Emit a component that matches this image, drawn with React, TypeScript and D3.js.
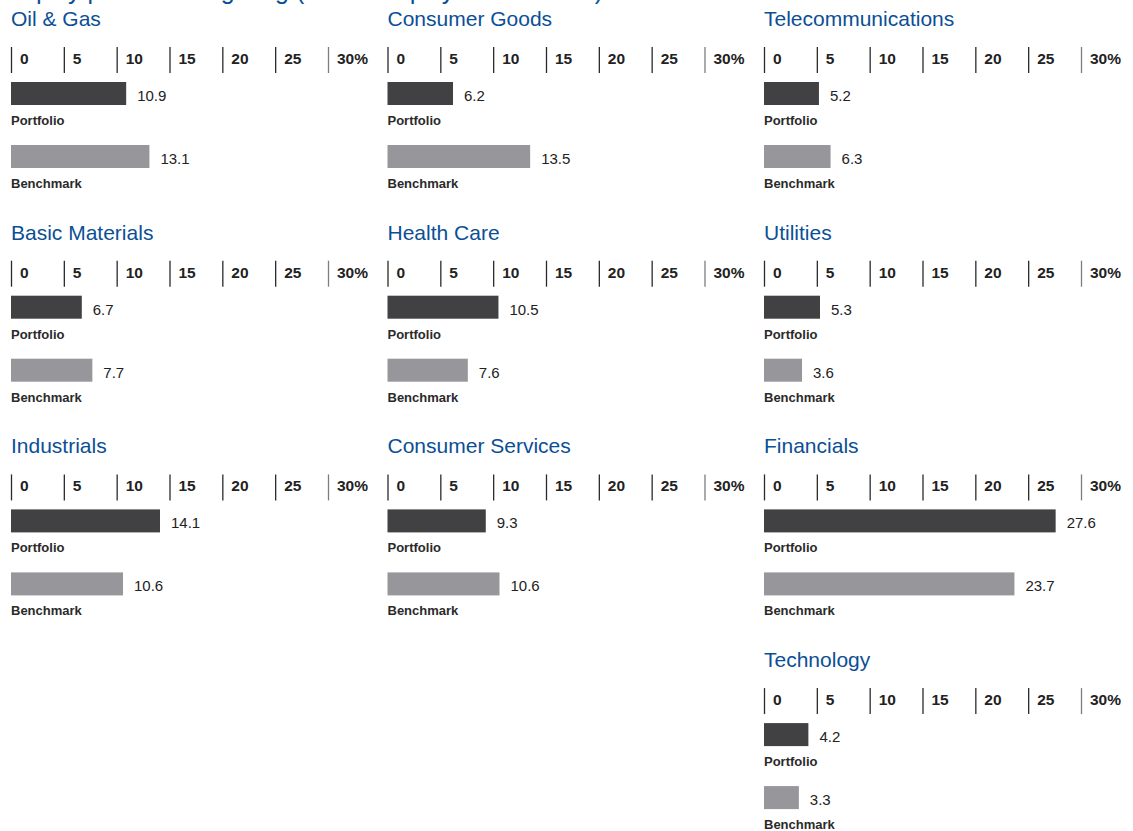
import { useEffect, useRef } from 'react';
import * as d3 from 'd3';

const chartTitle = 'Equity portfolio weighting (% total equity investments) versus benchmark index';

// column-major: first column, second column, third column
const sectors = [
  'Oil & Gas', 'Basic Materials', 'Industrials',
  'Consumer Goods', 'Health Care', 'Consumer Services',
  'Telecommunications', 'Utilities', 'Financials', 'Technology',
];
const portfolio = [10.9, 6.7, 14.1, 6.2, 10.5, 9.3, 5.2, 5.3, 27.6, 4.2];
const benchmark = [13.1, 7.7, 10.6, 13.5, 7.6, 10.6, 6.3, 3.6, 23.7, 3.3];
const columnSizes = [3, 3, 4];
const tickValues = [0, 5, 10, 15, 20, 25, 30];
const seriesLabels = ['Portfolio', 'Benchmark'];

const W = 1133;
const H = 831;
const FONT = '"Liberation Sans", Arial, Helvetica, sans-serif';
const BLUE = '#0b4f96';
const DARK = '#414143';
const GREY = '#97979b';

export default function App() {
  const svgRef = useRef<SVGSVGElement>(null);

  useEffect(() => {
    if (!svgRef.current) return;
    const svg = d3.select(svgRef.current);
    svg.selectAll('*').remove();

    const colX = [11, 387.5, 764];
    const rowH = 213.7;
    const x = d3.scaleLinear().domain([0, 30]).range([0, 317]);

    // main title, mostly cut off above the frame (as in the source)
    svg.append('text')
      .attr('x', 11)
      .attr('y', -1.5)
      .attr('font-family', FONT)
      .attr('font-size', 25)
      .attr('fill', BLUE)
      .text(chartTitle);

    // map index -> column / row
    const cells: { col: number; row: number }[] = [];
    columnSizes.forEach((n, c) => {
      for (let r = 0; r < n; r++) cells.push({ col: c, row: r });
    });

    sectors.forEach((name, i) => {
      const { col, row } = cells[i];
      const g = svg.append('g')
        .attr('transform', `translate(${colX[col]}, ${row * rowH})`);

      g.append('text')
        .attr('x', 0)
        .attr('y', 26)
        .attr('font-family', FONT)
        .attr('font-size', 21)
        .attr('fill', BLUE)
        .text(name);

      // axis: tick lines + labels
      const ticks = g.selectAll('g.tick')
        .data(tickValues)
        .enter()
        .append('g')
        .attr('transform', d => `translate(${x(d)}, 0)`);

      ticks.append('line')
        .attr('x1', 0.5).attr('x2', 0.5)
        .attr('y1', 47).attr('y2', 73)
        .attr('stroke', (d, j) => (j === tickValues.length - 1 ? '#7d7d7f' : '#2a2a2c'))
        .attr('stroke-width', 1.3);

      ticks.append('text')
        .attr('x', 9)
        .attr('y', 64)
        .attr('font-family', FONT)
        .attr('font-size', 15.5)
        .attr('font-weight', 'bold')
        .attr('fill', '#222')
        .text((d, j) => (j === tickValues.length - 1 ? `${d}%` : `${d}`));

      const values = [portfolio[i], benchmark[i]];
      const colors = [DARK, GREY];

      values.forEach((v, k) => {
        const y0 = 82 + k * 63;
        g.append('rect')
          .attr('x', 0)
          .attr('y', y0)
          .attr('width', x(v))
          .attr('height', 23)
          .attr('fill', colors[k]);

        g.append('text')
          .attr('x', x(v) + 11)
          .attr('y', y0 + 19)
          .attr('font-family', FONT)
          .attr('font-size', 15)
          .attr('fill', '#222')
          .text(v.toFixed(1));

        g.append('text')
          .attr('x', 0)
          .attr('y', y0 + 43)
          .attr('font-family', FONT)
          .attr('font-size', 13)
          .attr('font-weight', 'bold')
          .attr('fill', '#2a2a2a')
          .text(seriesLabels[k]);
      });
    });
  }, []);

  return (
    <svg
      ref={svgRef}
      width={W}
      height={H}
      style={{ position: 'absolute', left: 0, top: 0, background: '#fff' }}
    />
  );
}
